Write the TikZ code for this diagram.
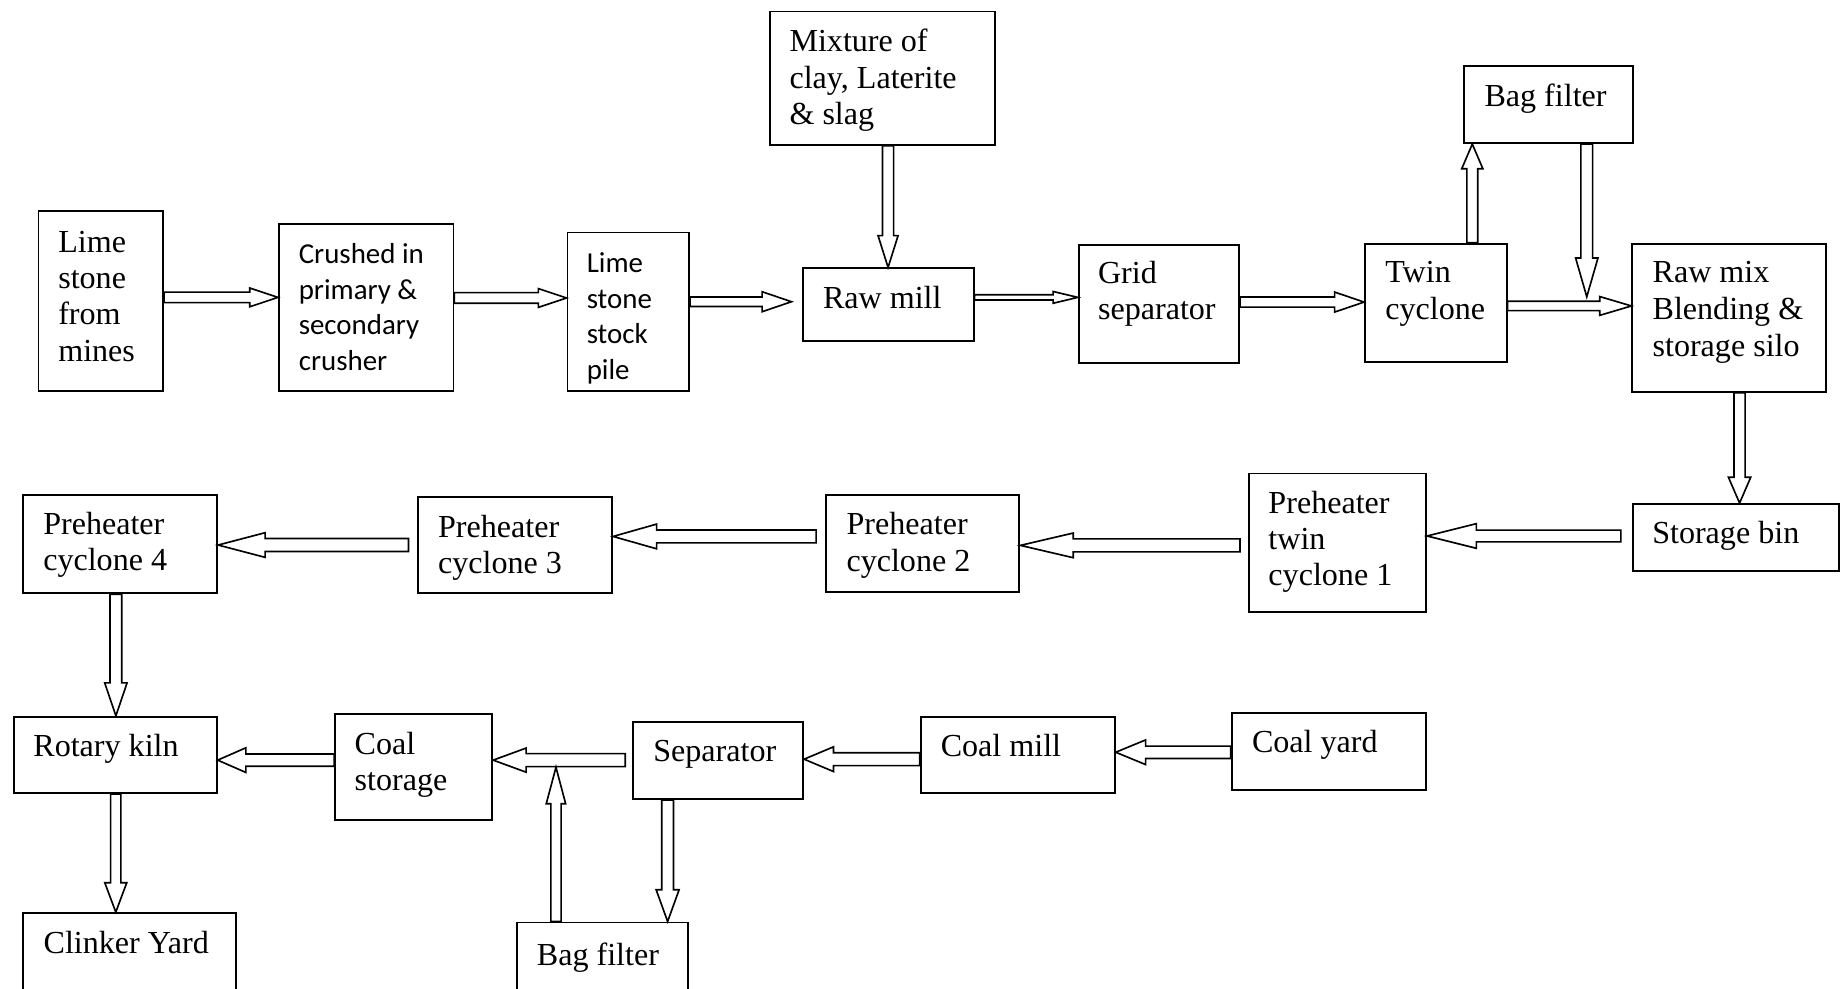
\documentclass[tikz,border=0pt]{standalone}
\usepackage{fontspec}
\setmainfont{Liberation Serif}
\newfontfamily\calfont{Carlito}
\usetikzlibrary{calc}
\begin{document}
\begin{tikzpicture}[x=1pt,y=-1pt,
  box/.style={draw, line width=1.6pt, inner sep=0pt, anchor=north west},
  txt/.style={inner sep=0pt, anchor=base west, align=left, font=\fontsize{27.3}{30.9}\selectfont},
  ctxt/.style={inner sep=0pt, anchor=base west, align=left, font=\calfont\fontsize{24.6}{30.2}\selectfont},
  aw/.code args={#1/#2/#3}{\def\arrsw{#1pt}\def\arrhw{#2pt}\def\arrhl{#3pt}},
  harrow/.style={draw, line width=1.4pt, line join=miter, miter limit=20, fill=white, aw=#1,
    to path={
      ($(\tikztostart)!0.5*\arrsw!90:(\tikztotarget)$)
      -- ($(\tikztotarget)!\arrhl!(\tikztostart)!0.5*\arrsw!-90:(\tikztostart)$)
      -- ($(\tikztotarget)!\arrhl!(\tikztostart)!0.5*\arrhw!-90:(\tikztostart)$)
      -- (\tikztotarget)
      -- ($(\tikztotarget)!\arrhl!(\tikztostart)!0.5*\arrhw!90:(\tikztostart)$)
      -- ($(\tikztotarget)!\arrhl!(\tikztostart)!0.5*\arrsw!90:(\tikztostart)$)
      -- ($(\tikztostart)!0.5*\arrsw!-90:(\tikztotarget)$) -- cycle}},
  harrow/.default={10/20/25}
]
\useasboundingbox (0,0) rectangle (1568,841);
\clip (0,0) rectangle (1568,841);

% boxes
\node[box, minimum width=106pt, minimum height=153pt] (lime) at (32,179) {};
\node[box, minimum width=148.5pt, minimum height=142pt] (crush) at (236.5,190) {};
\node[box, minimum width=103.5pt, minimum height=135pt] (stock) at (482,197) {};
\node[box, minimum width=192pt, minimum height=113.5pt] (mix) at (654,9) {};
\node[box, minimum width=145.5pt, minimum height=61.5pt] (raw) at (682,227.5) {};
\node[box, minimum width=136.5pt, minimum height=100.5pt] (grid) at (917,207.5) {};
\node[box, minimum width=120.5pt, minimum height=101pt] (twin) at (1160.5,206.5) {};
\node[box, minimum width=143.5pt, minimum height=66pt] (bagT) at (1245,55) {};
\node[box, minimum width=165pt, minimum height=126pt] (rawmix) at (1388,206.5) {};
\node[box, minimum width=175pt, minimum height=57pt] (sbin) at (1388.5,428) {};
\node[box, minimum width=151pt, minimum height=118pt] (p1) at (1061.5,402) {};
\node[box, minimum width=164.5pt, minimum height=83pt] (p2) at (702,420) {};
\node[box, minimum width=165pt, minimum height=82pt] (p3) at (355,422) {};
\node[box, minimum width=165.4pt, minimum height=84pt] (p4) at (18.6,420) {};
\node[box, minimum width=172.6pt, minimum height=65pt] (kiln) at (11,609) {};
\node[box, minimum width=133.7pt, minimum height=89.5pt] (cstore) at (284.3,607) {};
\node[box, minimum width=145pt, minimum height=65.5pt] (sep) at (537.5,613.5) {};
\node[box, minimum width=165.2pt, minimum height=65pt] (cmill) at (782.4,609) {};
\node[box, minimum width=165.3pt, minimum height=65.5pt] (cyard) at (1047,605.5) {};
\node[box, minimum width=181pt, minimum height=124pt] (clinker) at (18.7,776) {};
\node[box, minimum width=145.6pt, minimum height=116pt] (bagB) at (439,784) {};

% texts (anchored at the baseline of the last line)
\node[txt] (tlime) at (49.4,307.2) {Lime\\stone\\from\\mines};
\node[ctxt] (tcrush) at (254,314.8) {Crushed in\\primary \&\\secondary\\crusher};
\node[ctxt, font=\calfont\fontsize{24.6}{30.5}\selectfont] (tstock) at (499,323.1) {Lime\\stone\\stock\\pile};
\node[txt] (tmix) at (671.5,106) {Mixture of\\clay, Laterite\\\& slag};
\node[txt] (traw) at (700,262.8) {Raw mill};
\node[txt] (tgrid) at (934,271.9) {Grid\\separator};
\node[txt] (ttwin) at (1178.4,271.4) {Twin\\cyclone};
\node[txt, font=\fontsize{27.3}{31.6}\selectfont] (trawmix) at (1405.8,303.4) {Raw mix\\Blending \&\\storage silo};
\node[txt] (tbagT) at (1262.8,90.2) {Bag filter};
\node[txt] (tsbin) at (1405.5,462.5) {Storage bin};
\node[txt] (tp1) at (1079,498.5) {Preheater\\twin\\cyclone 1};
\node[txt] (tp2) at (720,485.9) {Preheater\\cyclone 2};
\node[txt] (tp3) at (372.5,488.3) {Preheater\\cyclone 3};
\node[txt] (tp4) at (36.6,485.5) {Preheater\\cyclone 4};
\node[txt] (tkiln) at (28.2,643.5) {Rotary kiln};
\node[txt] (tcstore) at (301.6,672.9) {Coal\\storage};
\node[txt] (tsep) at (555.6,648) {Separator};
\node[txt] (tcmill) at (800.2,643.5) {Coal mill};
\node[txt] (tcyard) at (1065,640.4) {Coal yard};
\node[txt] (tclinker) at (36.9,811) {Clinker Yard};
\node[txt] (tbagB) at (456.6,821) {Bag filter};

% free ends
\coordinate (bagTtip) at (1350,252.5);
\coordinate (bagBtip) at (473,652.8);

% arrows
\draw[harrow=9/16/24] (lime.east |- 0,253) to (crush.west |- 0,253);
\draw[harrow=9/16/24] (crush.east |- 0,253.5) to (stock.west |- 0,253.5);
\draw[harrow=8/17/25] (stock.east |- 0,256.7) to ([xshift=-8.6pt]raw.west |- 0,256.7);
\draw[harrow=9.5/17/27] (raw.north |- mix.south) to (raw.north);
\draw[harrow=4.5/10/21] (raw.east |- 0,253) to (grid.west |- 0,253);
\draw[harrow=8.6/17/25] (grid.east |- 0,257) to (twin.west |- 0,257);
\draw[harrow=9.3/18/21] (twin.north -| 1252.6,0) to (bagT.south -| 1252.6,0);
\draw[harrow=10/19/33] (bagT.south -| bagTtip) to (bagTtip);
\draw[harrow=8/16/27] (twin.east |- 0,260.3) to (rawmix.west |- 0,260.3);
\draw[harrow=9.5/19/22] (rawmix.south -| 1480,0) to (sbin.north -| 1480,0);
\draw[harrow=10/21/42] ([xshift=-9.5pt]sbin.west |- 0,456) to (p1.east |- 0,456);
\draw[harrow=11/21/45] ([xshift=-6.5pt]p1.west |- 0,464) to (p2.east |- 0,464);
\draw[harrow=11/21/37] ([xshift=-7.7pt]p2.west |- 0,456.4) to (p3.east |- 0,456.4);
\draw[harrow=11/21/40] ([xshift=-7.4pt]p3.west |- 0,463.7) to (p4.east |- 0,463.7);
\draw[harrow=10/19/28] (p4.south -| 98.6,0) to (kiln.north -| 98.6,0);
\draw[harrow=8.7/18.7/25] (kiln.south -| 98.5,0) to (clinker.north -| 98.5,0);
\draw[harrow=10.4/21/24] (cstore.west |- 0,646.7) to (kiln.east |- 0,646.7);
\draw[harrow=11/20.5/28] ([xshift=-5.5pt]sep.west |- 0,646.7) to (cstore.east |- 0,646.7);
\draw[harrow=8.7/16.5/31] (bagB.north -| bagBtip) to (bagBtip);
\draw[harrow=10/19.5/27] (sep.south -| 568,0) to (bagB.north -| 568,0);
\draw[harrow=11/21/25] (cmill.west |- 0,645.9) to (sep.east |- 0,645.9);
\draw[harrow=10.5/21/25.5] (cyard.west |- 0,640) to (cmill.east |- 0,640);
\end{tikzpicture}
\end{document}
